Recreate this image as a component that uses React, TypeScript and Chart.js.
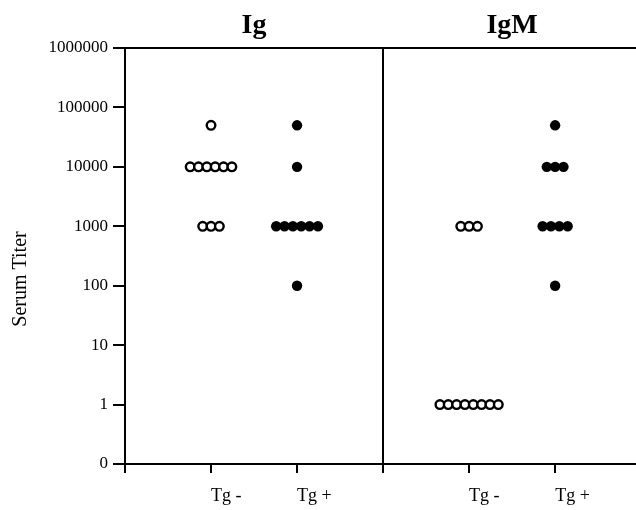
import React, { useEffect, useRef } from "react";
import { Chart, registerables } from "chart.js";

Chart.register(...registerables);

// ---- data ----
const panels = ["Ig", "IgM"];
const categories = ["Tg -", "Tg +"];
const yTickValues = [0, 1, 10, 100, 1000, 10000, 100000, 1000000];

// serum titers, one value per animal
const igTgNeg = [50000, 10000, 10000, 10000, 10000, 10000, 10000, 1000, 1000, 1000];
const igTgPos = [50000, 10000, 1000, 1000, 1000, 1000, 1000, 1000, 100];
const igmTgNeg = [1000, 1000, 1000, 1, 1, 1, 1, 1, 1, 1, 1];
const igmTgPos = [50000, 10000, 10000, 10000, 1000, 1000, 1000, 1000, 100];

// group positions on the x axis (category slots)
const groupSlots = [1, 2, 4, 5];
const groupData = [igTgNeg, igTgPos, igmTgNeg, igmTgPos];
const groupFilled = [false, true, false, true];

const toAxis = (t: number) => (t > 0 ? Math.log10(t) : -1);
const fromAxis = (v: number) => (v <= -1 ? 0 : Math.round(Math.pow(10, v)));

const SPREAD = 0.097;

function buildPoints(values: number[], center: number) {
  const counts = new Map<number, number>();
  values.forEach((v) => counts.set(v, (counts.get(v) || 0) + 1));
  const pts: { x: number; y: number }[] = [];
  counts.forEach((n, v) => {
    for (let k = 0; k < n; k++) {
      pts.push({ x: center + (k - (n - 1) / 2) * SPREAD, y: toAxis(v) });
    }
  });
  return pts;
}

const FONT = "'Liberation Serif', 'DejaVu Serif', serif";

const decorPlugin = {
  id: "decor",
  afterDraw(chart: any) {
    const { ctx, chartArea, scales } = chart;
    const xs = scales.x;
    ctx.save();
    ctx.strokeStyle = "#000";
    ctx.lineWidth = 2;
    // top frame line
    ctx.beginPath();
    ctx.moveTo(chartArea.left - 1, chartArea.top);
    ctx.lineTo(chartArea.right, chartArea.top);
    ctx.stroke();
    // panel divider
    const dx = Math.round(xs.getPixelForValue(3));
    ctx.beginPath();
    ctx.moveTo(dx, chartArea.top);
    ctx.lineTo(dx, chartArea.bottom);
    ctx.stroke();
    // panel titles
    ctx.fillStyle = "#000";
    ctx.font = `bold 28px ${FONT}`;
    ctx.textAlign = "center";
    ctx.textBaseline = "alphabetic";
    ctx.fillText(panels[0], xs.getPixelForValue(1.5), 33);
    ctx.fillText(panels[1], xs.getPixelForValue(4.5), 33);
    // y axis title
    ctx.font = `20px ${FONT}`;
    ctx.translate(21, 279);
    ctx.rotate(-Math.PI / 2);
    ctx.textBaseline = "middle";
    ctx.fillText("Serum Titer", 0, 0);
    ctx.restore();
  },
};

export default function App() {
  const ref = useRef<HTMLCanvasElement>(null);
  useEffect(() => {
    if (!ref.current) return;
    const datasets = groupData.map((vals, i) => ({
      label: categories[i % 2],
      data: buildPoints(vals, groupSlots[i]),
      pointRadius: groupFilled[i] ? 5.2 : 4.3,
      pointHoverRadius: groupFilled[i] ? 5.2 : 4.3,
      pointBorderWidth: groupFilled[i] ? 0 : 2.4,
      pointBackgroundColor: groupFilled[i] ? "#000" : "#fff",
      pointBorderColor: "#000",
      showLine: false,
      clip: false as any,
    }));
    const chart = new Chart(ref.current, {
      type: "scatter",
      data: { datasets },
      plugins: [decorPlugin],
      options: {
        animation: false,
        responsive: false,
        layout: { autoPadding: false, padding: { top: 48, right: 0, left: 0, bottom: 0 } },
        plugins: { legend: { display: false }, tooltip: { enabled: false } },
        scales: {
          x: {
            type: "linear",
            min: 0,
            max: 5.94,
            afterFit: (s: any) => {
              s.height = 46;
              s.paddingLeft = 0;
              s.paddingRight = 0;
            },
            ticks: {
              stepSize: 1,
              includeBounds: false,
              autoSkip: false,
              align: "start",
              padding: 12,
              color: "#000",
              font: { family: FONT, size: 18 },
              callback: (v: any) => {
                const i = groupSlots.indexOf(Number(v));
                return i >= 0 ? categories[i % 2] : "";
              },
            },
            grid: {
              drawOnChartArea: false,
              drawTicks: true,
              tickLength: 9,
              color: "#000",
              lineWidth: 2,
            },
            border: { display: true, color: "#000", width: 2 },
          },
          y: {
            type: "linear",
            min: -1,
            max: 6,
            afterFit: (s: any) => {
              s.width = 125;
              s.paddingTop = 0;
              s.paddingBottom = 0;
            },
            ticks: {
              stepSize: 1,
              padding: 5,
              color: "#000",
              font: { family: FONT, size: 17 },
              callback: (v: any) => {
                const t = fromAxis(Number(v));
                return yTickValues.includes(t) ? String(t) : "";
              },
            },
            grid: {
              drawOnChartArea: false,
              drawTicks: true,
              tickLength: 12,
              color: "#000",
              lineWidth: 2,
            },
            border: { display: true, color: "#000", width: 2 },
          },
        },
      },
    });
    return () => chart.destroy();
  }, []);
  return (
    <div style={{ position: "fixed", left: 0, top: 0, width: 636, height: 510, background: "#fff" }}>
      <canvas ref={ref} width={636} height={510} style={{ width: 636, height: 510 }} />
    </div>
  );
}
